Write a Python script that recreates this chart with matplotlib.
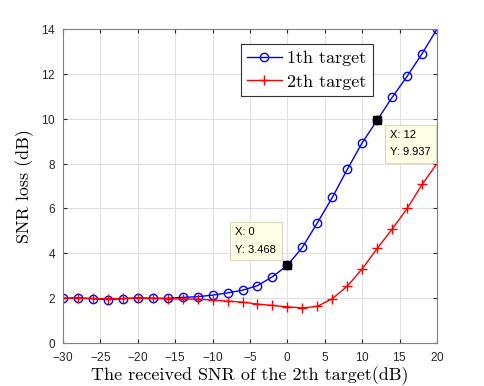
import matplotlib
matplotlib.use("Agg")
import matplotlib.pyplot as plt

snr = list(range(-30, 21, 2))
loss_1 = [2.00, 2.02, 1.98, 1.94, 1.98, 2.02, 2.00, 2.00, 2.04, 2.07, 2.14, 2.24, 2.36,
          2.56, 2.96, 3.468, 4.27, 5.36, 6.49, 7.74, 8.93, 9.937, 10.95, 11.89, 12.90, 14.0]
loss_2 = [2.00, 2.00, 1.99, 1.98, 1.99, 2.00, 1.99, 1.98, 1.97, 1.96, 1.92, 1.87, 1.83,
          1.74, 1.68, 1.62, 1.57, 1.64, 1.98, 2.54, 3.31, 4.22, 5.08, 6.00, 7.07, 8.01]

tip_x = [0, 12]
tip_y = [3.468, 9.937]
tip_text = ["X: 0\nY: 3.468", "X: 12\nY: 9.937"]

serif = {"family": "cmr10"}
plt.rcParams["axes.formatter.use_mathtext"] = True
plt.rcParams["font.family"] = "Liberation Sans"

fig = plt.figure(figsize=(4.84, 3.86), dpi=100)
ax = fig.add_axes([0.130, 0.111, 0.773, 0.814])

ax.plot(snr, loss_1, color="b", marker="o", markersize=6, markerfacecolor="none",
        markeredgewidth=1.0, linewidth=1.0, label="1th target")
ax.plot(snr, loss_2, color="r", marker="+", markersize=7, markeredgewidth=1.0,
        linewidth=1.0, label="2th target")

# data tips, box offset in pixels from the tip point
offsets = [(-52, 38), (13, -10)]
for x, y, t, off in zip(tip_x, tip_y, tip_text, offsets):
    ax.plot(x, y, marker="s", color="k", markersize=6, zorder=5)
    ax.annotate(t, (x, y), xytext=off, textcoords="offset pixels", fontsize=8,
                va="top", ha="left", linespacing=1.9,
                bbox=dict(boxstyle="square,pad=0.5", fc="#ffffe6", ec="#d8d8c0", lw=0.8))

ax.set_xlim(-30, 20)
ax.set_ylim(0, 14)
ax.set_xticks(range(-30, 21, 5))
ax.set_yticks(range(0, 15, 2))
ax.tick_params(direction="in", top=True, right=True, labelsize=8.5, colors="#262626",
               length=3)
ax.tick_params(axis="x", pad=6)
ax.tick_params(axis="y", pad=5)
for s in ax.spines.values():
    s.set_color("#808080")
ax.grid(True, color="#e0e0e0", linewidth=0.7)
ax.set_axisbelow(True)

ax.set_xlabel("The received SNR of the 2th target(dB)", fontsize=13, fontdict=serif,
              labelpad=1)
ax.set_ylabel("SNR loss (dB)", fontsize=13, fontdict=serif, labelpad=5)

leg = ax.legend(loc="upper left", bbox_to_anchor=(0.476, 0.952),
                prop={"family": "cmr10", "size": 13},
                fancybox=False, edgecolor="#333333", framealpha=1, borderpad=0.35,
                handlelength=1.9, handletextpad=0.3, labelspacing=0.45, borderaxespad=0)
leg.get_frame().set_linewidth(0.8)

fig.savefig("out.png", dpi=100)
